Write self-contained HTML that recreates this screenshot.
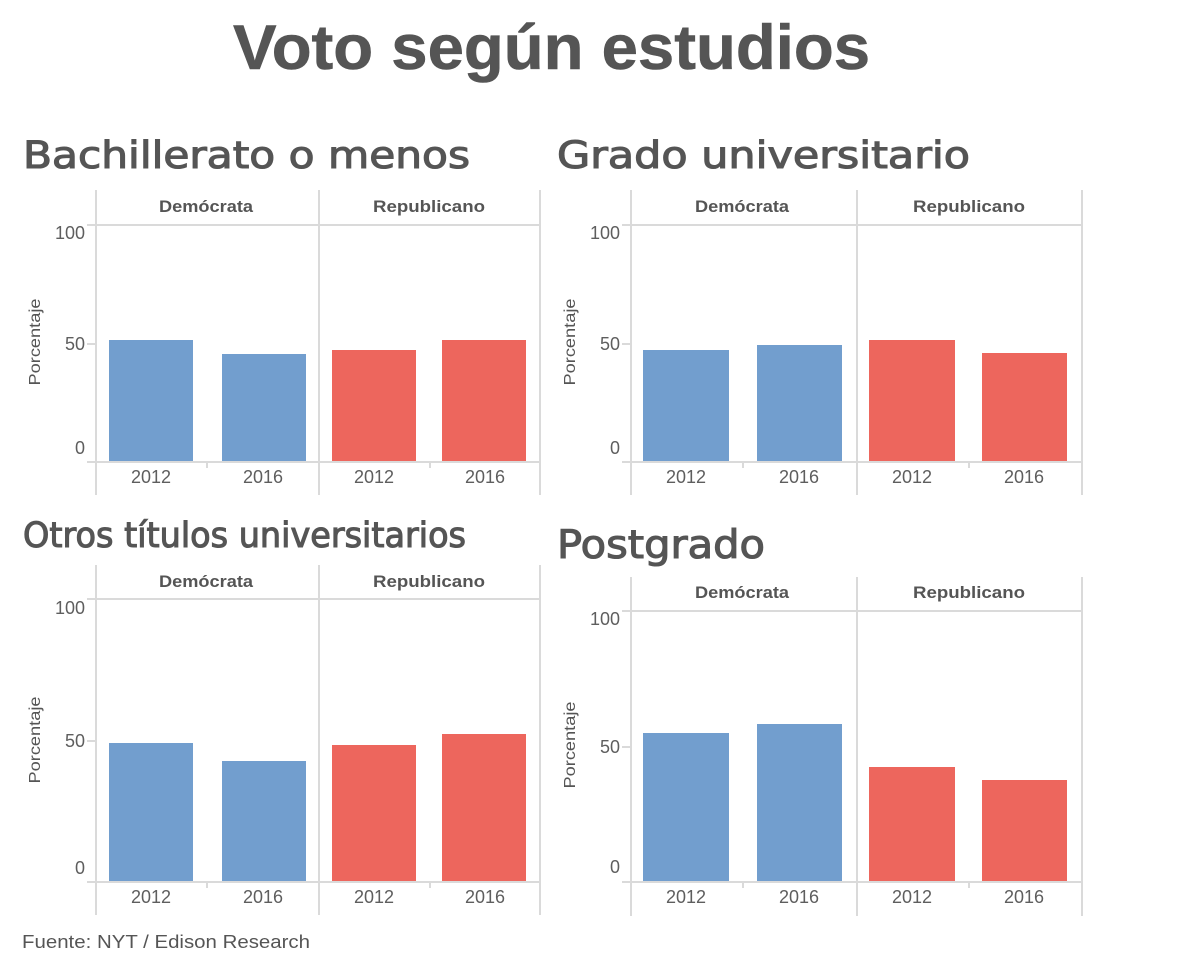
<!DOCTYPE html>
<html>
<head>
<meta charset="utf-8">
<style>
  html, body { margin: 0; padding: 0; background: #ffffff; }
  body { width: 1200px; height: 978px; overflow: hidden; }
  svg { display: block; }
  .title { font-family: "Liberation Sans", "DejaVu Sans", sans-serif; font-weight: bold; fill: #555555; stroke: #555555; stroke-width: 0.6; }
  .sub { font-family: "DejaVu Sans", "Liberation Sans", sans-serif; fill: #555555; stroke: #555555; stroke-width: 1.1; }
  .hdr { font-family: "Liberation Sans", sans-serif; font-weight: bold; font-size: 17px; fill: #555555; }
  .tick { font-family: "Liberation Sans", sans-serif; font-size: 18px; fill: #5e5e5e; }
  .ylab { font-family: "Liberation Sans", sans-serif; font-size: 16px; fill: #555555; }
  .foot { font-family: "Liberation Sans", sans-serif; font-size: 18px; fill: #555555; }
  .g { stroke: #dadada; stroke-width: 2; fill: none; }
</style>
</head>
<body>
<svg width="1200" height="978" viewBox="0 0 1200 978" xmlns="http://www.w3.org/2000/svg">
  <rect width="1200" height="978" fill="#ffffff"/>

  <!-- Main title -->
  <text class="title" x="233" y="69" font-size="63" textLength="637" lengthAdjust="spacingAndGlyphs">Voto según estudios</text>

  <!-- Subtitles -->
  <text class="sub" x="23" y="168" font-size="37" textLength="447" lengthAdjust="spacingAndGlyphs">Bachillerato o menos</text>
  <text class="sub" x="557" y="168" font-size="37" textLength="413" lengthAdjust="spacingAndGlyphs">Grado universitario</text>
  <text class="sub" x="23" y="547" font-size="35" textLength="443" lengthAdjust="spacingAndGlyphs">Otros títulos universitarios</text>
  <text class="sub" x="557" y="558" font-size="39" textLength="208" lengthAdjust="spacingAndGlyphs">Postgrado</text>

  <!-- ============ CHART 1 (top-left) ============ -->
  <g>
    <rect x="109" y="340" width="84" height="122" fill="#729ece"/>
    <rect x="222" y="354" width="84" height="108" fill="#729ece"/>
    <rect x="332" y="350" width="84" height="112" fill="#ed665d"/>
    <rect x="442" y="340" width="84" height="122" fill="#ed665d"/>
    <line class="g" x1="96" y1="190" x2="96" y2="495"/>
    <line class="g" x1="319" y1="190" x2="319" y2="495"/>
    <line class="g" x1="540" y1="190" x2="540" y2="495"/>
    <line class="g" x1="87" y1="225" x2="540" y2="225"/>
    <line class="g" x1="87" y1="462" x2="540" y2="462"/>
    <line class="g" x1="87" y1="344" x2="96" y2="344"/>
    <line class="g" x1="207" y1="462" x2="207" y2="468"/>
    <line class="g" x1="430" y1="462" x2="430" y2="468"/>
    <text class="hdr" x="206" y="212" text-anchor="middle" textLength="94" lengthAdjust="spacingAndGlyphs">Demócrata</text>
    <text class="hdr" x="429" y="212" text-anchor="middle" textLength="112" lengthAdjust="spacingAndGlyphs">Republicano</text>
    <text class="tick" x="85" y="239" text-anchor="end">100</text>
    <text class="tick" x="85" y="350" text-anchor="end">50</text>
    <text class="tick" x="85" y="454" text-anchor="end">0</text>
    <text class="ylab" transform="translate(40,342) rotate(-90)" text-anchor="middle" textLength="87" lengthAdjust="spacingAndGlyphs">Porcentaje</text>
    <text class="tick" x="151" y="483" text-anchor="middle">2012</text>
    <text class="tick" x="263" y="483" text-anchor="middle">2016</text>
    <text class="tick" x="374" y="483" text-anchor="middle">2012</text>
    <text class="tick" x="485" y="483" text-anchor="middle">2016</text>
  </g>

  <!-- ============ CHART 2 (top-right) ============ -->
  <g>
    <rect x="643" y="350" width="86" height="112" fill="#729ece"/>
    <rect x="757" y="345" width="85" height="117" fill="#729ece"/>
    <rect x="869" y="340" width="86" height="122" fill="#ed665d"/>
    <rect x="982" y="353" width="85" height="109" fill="#ed665d"/>
    <line class="g" x1="631" y1="190" x2="631" y2="495"/>
    <line class="g" x1="857" y1="190" x2="857" y2="495"/>
    <line class="g" x1="1082" y1="190" x2="1082" y2="495"/>
    <line class="g" x1="622" y1="225" x2="1082" y2="225"/>
    <line class="g" x1="622" y1="462" x2="1082" y2="462"/>
    <line class="g" x1="622" y1="344" x2="631" y2="344"/>
    <line class="g" x1="743" y1="462" x2="743" y2="468"/>
    <line class="g" x1="969" y1="462" x2="969" y2="468"/>
    <text class="hdr" x="742" y="212" text-anchor="middle" textLength="94" lengthAdjust="spacingAndGlyphs">Demócrata</text>
    <text class="hdr" x="969" y="212" text-anchor="middle" textLength="112" lengthAdjust="spacingAndGlyphs">Republicano</text>
    <text class="tick" x="620" y="239" text-anchor="end">100</text>
    <text class="tick" x="620" y="350" text-anchor="end">50</text>
    <text class="tick" x="620" y="454" text-anchor="end">0</text>
    <text class="ylab" transform="translate(575,342) rotate(-90)" text-anchor="middle" textLength="87" lengthAdjust="spacingAndGlyphs">Porcentaje</text>
    <text class="tick" x="686" y="483" text-anchor="middle">2012</text>
    <text class="tick" x="799" y="483" text-anchor="middle">2016</text>
    <text class="tick" x="912" y="483" text-anchor="middle">2012</text>
    <text class="tick" x="1024" y="483" text-anchor="middle">2016</text>
  </g>

  <!-- ============ CHART 3 (bottom-left) ============ -->
  <g>
    <rect x="109" y="743" width="84" height="139" fill="#729ece"/>
    <rect x="222" y="761" width="84" height="121" fill="#729ece"/>
    <rect x="332" y="745" width="84" height="137" fill="#ed665d"/>
    <rect x="442" y="734" width="84" height="148" fill="#ed665d"/>
    <line class="g" x1="96" y1="565" x2="96" y2="915"/>
    <line class="g" x1="319" y1="565" x2="319" y2="915"/>
    <line class="g" x1="540" y1="565" x2="540" y2="915"/>
    <line class="g" x1="87" y1="599" x2="540" y2="599"/>
    <line class="g" x1="87" y1="882" x2="540" y2="882"/>
    <line class="g" x1="87" y1="741" x2="96" y2="741"/>
    <line class="g" x1="207" y1="882" x2="207" y2="888"/>
    <line class="g" x1="430" y1="882" x2="430" y2="888"/>
    <text class="hdr" x="206" y="587" text-anchor="middle" textLength="94" lengthAdjust="spacingAndGlyphs">Demócrata</text>
    <text class="hdr" x="429" y="587" text-anchor="middle" textLength="112" lengthAdjust="spacingAndGlyphs">Republicano</text>
    <text class="tick" x="85" y="614" text-anchor="end">100</text>
    <text class="tick" x="85" y="747" text-anchor="end">50</text>
    <text class="tick" x="85" y="874" text-anchor="end">0</text>
    <text class="ylab" transform="translate(40,740) rotate(-90)" text-anchor="middle" textLength="87" lengthAdjust="spacingAndGlyphs">Porcentaje</text>
    <text class="tick" x="151" y="903" text-anchor="middle">2012</text>
    <text class="tick" x="263" y="903" text-anchor="middle">2016</text>
    <text class="tick" x="374" y="903" text-anchor="middle">2012</text>
    <text class="tick" x="485" y="903" text-anchor="middle">2016</text>
  </g>

  <!-- ============ CHART 4 (bottom-right) ============ -->
  <g>
    <rect x="643" y="733" width="86" height="149" fill="#729ece"/>
    <rect x="757" y="724" width="85" height="158" fill="#729ece"/>
    <rect x="869" y="767" width="86" height="115" fill="#ed665d"/>
    <rect x="982" y="780" width="85" height="102" fill="#ed665d"/>
    <line class="g" x1="631" y1="577" x2="631" y2="916"/>
    <line class="g" x1="857" y1="577" x2="857" y2="916"/>
    <line class="g" x1="1082" y1="577" x2="1082" y2="916"/>
    <line class="g" x1="622" y1="611" x2="1082" y2="611"/>
    <line class="g" x1="622" y1="882" x2="1082" y2="882"/>
    <line class="g" x1="622" y1="747" x2="631" y2="747"/>
    <line class="g" x1="743" y1="882" x2="743" y2="888"/>
    <line class="g" x1="969" y1="882" x2="969" y2="888"/>
    <text class="hdr" x="742" y="598" text-anchor="middle" textLength="94" lengthAdjust="spacingAndGlyphs">Demócrata</text>
    <text class="hdr" x="969" y="598" text-anchor="middle" textLength="112" lengthAdjust="spacingAndGlyphs">Republicano</text>
    <text class="tick" x="620" y="625" text-anchor="end">100</text>
    <text class="tick" x="620" y="753" text-anchor="end">50</text>
    <text class="tick" x="620" y="873" text-anchor="end">0</text>
    <text class="ylab" transform="translate(575,745) rotate(-90)" text-anchor="middle" textLength="87" lengthAdjust="spacingAndGlyphs">Porcentaje</text>
    <text class="tick" x="686" y="903" text-anchor="middle">2012</text>
    <text class="tick" x="799" y="903" text-anchor="middle">2016</text>
    <text class="tick" x="912" y="903" text-anchor="middle">2012</text>
    <text class="tick" x="1024" y="903" text-anchor="middle">2016</text>
  </g>

  <!-- Footer -->
  <text class="foot" x="22" y="948" textLength="288" lengthAdjust="spacingAndGlyphs">Fuente: NYT / Edison Research</text>
</svg>
</body>
</html>
